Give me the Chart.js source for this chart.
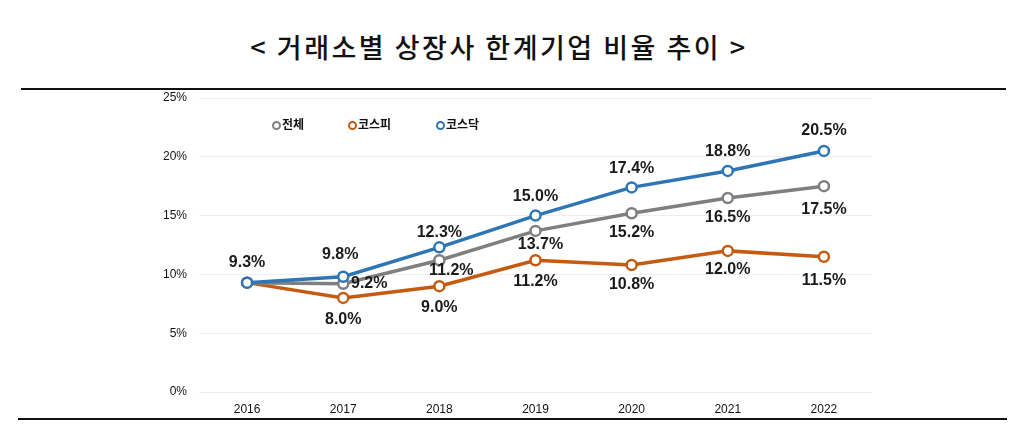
<!DOCTYPE html>
<html>
<head>
<meta charset="utf-8">
<script src="https://cdn.jsdelivr.net/npm/chart.js@4"></script>
<style>
  html, body { margin:0; padding:0; background:#fff; }
  body { width:1024px; height:445px; position:relative; overflow:hidden; }
  #title { position:absolute; left:0; width:998px; top:28px; text-align:center;
    font-family:"Noto Sans CJK KR"; font-size:27px; font-weight:500; letter-spacing:2.5px; color:#111; line-height:38px; }
  .rule { position:absolute; height:2px; background:#111; }
  #wrap { position:absolute; left:0; top:0; width:1024px; height:445px; }
  .leg { position:absolute; top:115px; font-family:"Noto Sans CJK KR"; font-weight:700; font-size:12px; color:#111; line-height:18px; white-space:nowrap; }
  .leg i { display:inline-block; width:5px; height:5px; border-radius:50%; border:2.5px solid; background:#fff; margin-right:1px; vertical-align:-1px; }
</style>
</head>
<body>
<div id="title">&lt; 거래소별 상장사 한계기업 비율 추이 &gt;</div>
<div class="rule" style="left:21px; width:985px; top:88px;"></div>
<div class="rule" style="left:18px; width:989px; top:418px;"></div>
<div id="wrap"><canvas id="c" width="1024" height="445"></canvas></div>
<div id="legend"></div>
<script>
const categories = ["2016","2017","2018","2019","2020","2021","2022"];
const seriesNames = ["전체","코스피","코스닥"];
const totalValues  = [9.3, 9.2, 11.2, 13.7, 15.2, 16.5, 17.5];
const kospiValues  = [9.3, 8.0, 9.0, 11.2, 10.8, 12.0, 11.5];
const kosdaqValues = [9.3, 9.8, 12.3, 15.0, 17.4, 18.8, 20.5];
const yTicks = [0, 5, 10, 15, 20, 25];

const colors = ["#7f7f7f", "#c55a11", "#2e75b6"];
const drawOrder = [1, 2, 0];
// label offsets [dx, dy] per point (null = no label)
const labelOffsets = [
  [null, [26,0], [12,10], [5,14], [0,19], [0,20], [0,23]],
  [null, [0,22], [0,21], [0,21], [0,20], [0,19], [0,24]],
  [[0,-20], [-3,-22], [0,-15], [0,-19], [0,-19], [0,-19], [0,-20]]
];

const legendPos = [272, 348, 436];
const legendEl = document.getElementById('legend');
seriesNames.forEach((n,i)=>{
  const d = document.createElement('div');
  d.className='leg'; d.style.left=legendPos[i]+'px';
  d.innerHTML = '<i style="border-color:'+colors[i]+'"></i>'+n;
  legendEl.appendChild(d);
});

const labelPlugin = {
  id:'valueLabels',
  afterDatasetsDraw(chart){
    const ctx = chart.ctx;
    ctx.save();
    ctx.font = 'bold 16px "Liberation Sans", Arial, sans-serif';
    ctx.fillStyle = '#1a1a1a';
    ctx.textAlign = 'center';
    ctx.textBaseline = 'middle';
    chart.data.datasets.forEach((ds, di)=>{
      const meta = chart.getDatasetMeta(di);
      meta.data.forEach((pt, i)=>{
        const off = labelOffsets[di][i];
        if (!off) return;
        ctx.fillText(ds.data[i].toFixed(1)+'%', pt.x+off[0], pt.y+off[1]);
      });
    });
    ctx.restore();
  }
};

const mk = (i, data) => ({
  label: seriesNames[i], data, borderColor: colors[i], backgroundColor:'#fff', order: drawOrder[i],
  borderWidth: 3.5, pointRadius: 5, pointBorderWidth: 2.5,
  pointBackgroundColor:'#fff', pointBorderColor: colors[i], tension: 0, fill:false
});

new Chart(document.getElementById('c'), {
  type:'line',
  data:{
    labels: categories,
    datasets:[ mk(0, totalValues), mk(1, kospiValues), mk(2, kosdaqValues) ]
  },
  options:{
    responsive:false, animation:false, devicePixelRatio:1,
    layout:{ padding:{ left:0, top:98, right:152, bottom:0 } },
    plugins:{ legend:{display:false}, tooltip:{enabled:false} },
    scales:{
      x:{
        offset:true,
        grid:{ display:false, drawTicks:false },
        border:{ display:false },
        ticks:{ padding:10, color:'#111', font:{ family:'"Liberation Sans", Arial', size:12 } },
        afterFit(s){ s.height = 53; }
      },
      y:{
        min:0, max:25,
        afterBuildTicks(s){ s.ticks = yTicks.map(v=>({value:v})); },
        grid:{ color:'#eeeeee', lineWidth:1, drawTicks:false },
        border:{ display:false },
        ticks:{ padding:12, color:'#111', callback:v=>v+'%', font:{ family:'"Liberation Sans", Arial', size:12 } },
        afterFit(s){ s.width = 199; }
      }
    }
  },
  plugins:[labelPlugin]
});
</script>
</body>
</html>
